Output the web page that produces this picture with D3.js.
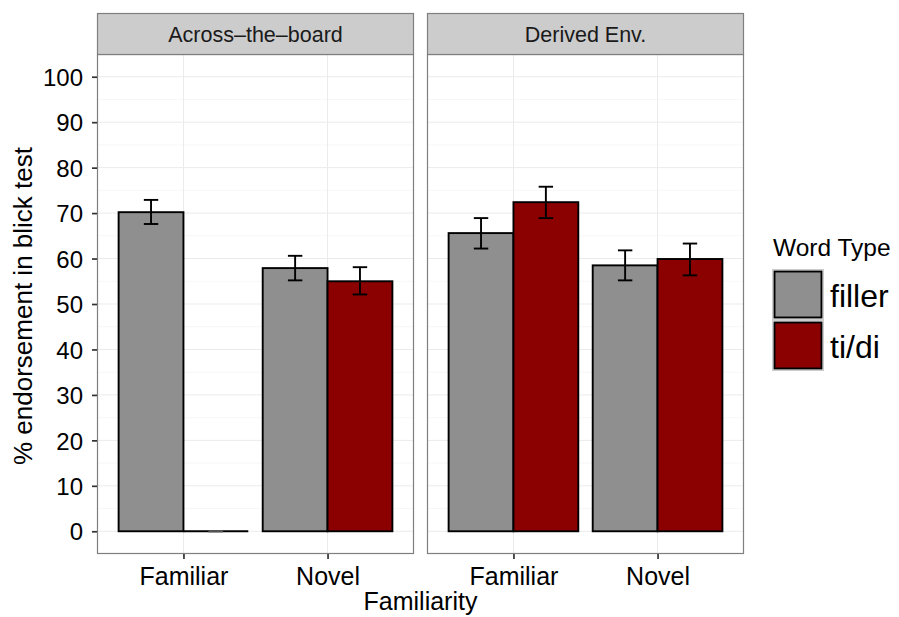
<!DOCTYPE html>
<html>
<head>
<meta charset="utf-8">
<script src="https://cdn.jsdelivr.net/npm/d3@7"></script>
<style>
  body { margin: 0; background: #fff; }
  svg { display: block; }
  text { font-family: "Liberation Sans", Arial, Helvetica, sans-serif; }
</style>
</head>
<body>
<svg id="chart" width="899" height="617"></svg>
<script>
// ---- data ----
const panels = ["Across\u2013the\u2013board", "Derived Env."];
const familiarity = ["Familiar", "Novel"];
const wordTypes = ["filler", "ti/di"];
// mean values [familiarity][wordType]
const acrossMeans = [[70.2, 0], [57.9, 55.0]];
const acrossLow   = [[67.6, 0], [55.2, 52.1]];
const acrossHigh  = [[72.9, 0], [60.6, 58.1]];
const derivedMeans = [[65.6, 72.4], [58.5, 59.9]];
const derivedLow   = [[62.2, 68.9], [55.2, 56.3]];
const derivedHigh  = [[68.9, 75.8], [61.8, 63.3]];
const yTicks = [0, 10, 20, 30, 40, 50, 60, 70, 80, 90, 100];
const yMinor = [5, 15, 25, 35, 45, 55, 65, 75, 85, 95];
const colors = ["#8f8f8f", "#8b0000"];

const panelData = [
  {name: panels[0], means: acrossMeans, low: acrossLow, high: acrossHigh},
  {name: panels[1], means: derivedMeans, low: derivedLow, high: derivedHigh}
];

const svg = d3.select("#chart");
const plotTop = 54, plotBottom = 554, stripTop = 13;
const panelX = [[97, 414], [427, 744]];
const FONT = "Liberation Sans, Arial, Helvetica, sans-serif";

const y = d3.scaleLinear().domain([-5, 105]).range([plotBottom, plotTop]);
const color = d3.scaleOrdinal().domain(wordTypes).range(colors);

panelData.forEach((p, pi) => {
  const [x0, x1] = panelX[pi];
  const x = d3.scalePoint().domain(familiarity).range([x0, x1]).padding(0.6);
  const step = x.step();
  const bw = step * 0.45;
  const g = svg.append("g");

  g.append("rect").attr("x", x0).attr("y", plotTop).attr("width", x1 - x0).attr("height", plotBottom - plotTop).attr("fill", "#fff");
  g.selectAll(".ymin").data(yMinor).join("line")
    .attr("x1", x0).attr("x2", x1).attr("y1", d => y(d)).attr("y2", d => y(d))
    .attr("stroke", "#f7f7f7").attr("stroke-width", 1);
  g.selectAll(".ymaj").data(yTicks).join("line")
    .attr("x1", x0).attr("x2", x1).attr("y1", d => y(d)).attr("y2", d => y(d))
    .attr("stroke", "#ebebeb").attr("stroke-width", 1);
  g.selectAll(".xmaj").data(familiarity).join("line")
    .attr("x1", d => x(d)).attr("x2", d => x(d)).attr("y1", plotTop).attr("y2", plotBottom)
    .attr("stroke", "#ebebeb").attr("stroke-width", 1);

  const bars = [];
  familiarity.forEach((f, fi) => {
    wordTypes.forEach((w, wi) => {
      bars.push({f, w, wi, v: p.means[fi][wi], lo: p.low[fi][wi], hi: p.high[fi][wi]});
    });
  });
  g.selectAll(".bar").data(bars).join("rect")
    .attr("x", d => x(d.f) - bw + d.wi * bw)
    .attr("width", bw)
    .attr("y", d => y(d.v))
    .attr("height", d => y(0) - y(d.v))
    .attr("fill", d => color(d.w))
    .attr("stroke", "#000").attr("stroke-width", 1.9);
  g.selectAll(".zero").data(bars.filter(d => d.v === 0)).join("line")
    .attr("x1", d => x(d.f) - bw + d.wi * bw).attr("x2", d => x(d.f) + d.wi * bw)
    .attr("y1", y(0)).attr("y2", y(0)).attr("stroke", "#000").attr("stroke-width", 1.9);

  const ew = step * 0.1;
  const cx = d => x(d.f) - bw / 2 + d.wi * bw;
  const ec = d => d.v === 0 ? "#555" : "#000";
  const eb = g.selectAll(".err").data(bars).join("g");
  eb.append("line")
    .attr("x1", cx).attr("x2", cx)
    .attr("y1", d => y(d.lo)).attr("y2", d => y(d.hi))
    .attr("stroke", ec).attr("stroke-width", 1.9);
  eb.append("line")
    .attr("x1", d => cx(d) - ew / 2).attr("x2", d => cx(d) + ew / 2)
    .attr("y1", d => y(d.lo)).attr("y2", d => y(d.lo))
    .attr("stroke", ec).attr("stroke-width", 1.9);
  eb.append("line")
    .attr("x1", d => cx(d) - ew / 2).attr("x2", d => cx(d) + ew / 2)
    .attr("y1", d => y(d.hi)).attr("y2", d => y(d.hi))
    .attr("stroke", ec).attr("stroke-width", 1.9);

  g.append("rect").attr("x", x0 + 0.5).attr("y", plotTop + 0.5).attr("width", x1 - x0 - 1).attr("height", plotBottom - plotTop - 1)
    .attr("fill", "none").attr("stroke", "#7f7f7f").attr("stroke-width", 1.2);
  g.append("rect").attr("x", x0 + 0.5).attr("y", stripTop + 0.5).attr("width", x1 - x0 - 1).attr("height", plotTop - stripTop)
    .attr("fill", "#cccccc").attr("stroke", "#7f7f7f").attr("stroke-width", 1.2);
  g.append("text").attr("x", (x0 + x1) / 2).attr("y", 42).attr("text-anchor", "middle")
    .attr("font-size", 21.5).attr("fill", "#1a1a1a").text(p.name);

  const xa = g.append("g").attr("transform", `translate(0,${plotBottom})`)
    .call(d3.axisBottom(x).tickSize(5).tickPadding(8));
  xa.select(".domain").remove();
  xa.selectAll(".tick line").attr("stroke", "#333").attr("stroke-width", 1.7);
  xa.selectAll(".tick text").attr("font-size", 25).attr("fill", "#000").attr("font-family", FONT);

  if (pi === 0) {
    const ya = g.append("g").attr("transform", `translate(${x0},0)`)
      .call(d3.axisLeft(y).tickValues(yTicks).tickSize(5).tickPadding(9));
    ya.select(".domain").remove();
    ya.selectAll(".tick line").attr("stroke", "#333").attr("stroke-width", 1.7);
    ya.selectAll(".tick text").attr("font-size", 24).attr("fill", "#000").attr("dy", "0.36em").attr("font-family", FONT);
  }
});

svg.append("text").attr("x", (97 + 744) / 2).attr("y", 610).attr("text-anchor", "middle")
  .attr("font-size", 25).attr("fill", "#000").text("Familiarity");
svg.append("text").attr("transform", `translate(32,${(plotTop + plotBottom) / 2 + 2}) rotate(-90)`)
  .attr("text-anchor", "middle").attr("font-size", 26).attr("fill", "#000").text("% endorsement in blick test");

const lg = svg.append("g");
lg.append("text").attr("x", 773).attr("y", 256).attr("font-size", 24.5).attr("fill", "#000").text("Word Type");
wordTypes.forEach((w, i) => {
  const ky = 269 + i * 51;
  lg.append("rect").attr("x", 772.5).attr("y", ky + 0.5).attr("width", 51).attr("height", 50)
    .attr("fill", "#f2f2f2").attr("stroke", "#cccccc").attr("stroke-width", 1);
  lg.append("rect").attr("x", 774.5).attr("y", ky + 2.5).attr("width", 47).attr("height", 46)
    .attr("fill", color(w)).attr("stroke", "#000").attr("stroke-width", 1.9);
  lg.append("text").attr("x", 830).attr("y", ky + 38).attr("font-size", 32).attr("fill", "#000").text(w);
});
</script>
</body>
</html>
